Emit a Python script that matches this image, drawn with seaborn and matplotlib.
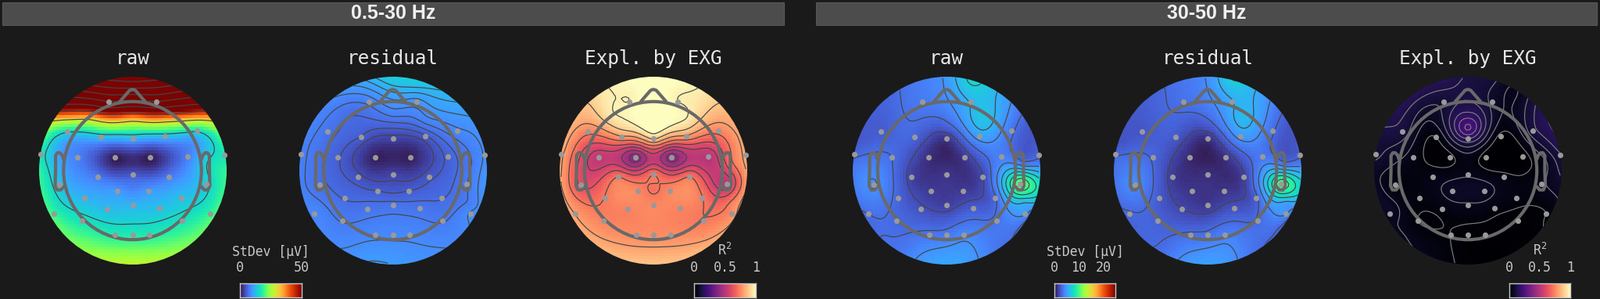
import numpy as np
import matplotlib
matplotlib.use('Agg')
import matplotlib.pyplot as plt
from matplotlib.patches import Rectangle, Circle, Ellipse
import seaborn as sns

W, H = 2047, 382

# electrode positions, head radius units where the map edge is 1
sensor_x = [-.257, .257, -.696, -.341, 0, .348, .688, -.982, -.587, -.188, .188, .587, .982,
            -.373, 0, .384, -.779, .786, -.163, .174, -.514, .518, -.272, 0, .286,
            -.837, .833, -.536, .533, -.185, 0, .181]
sensor_y = [.736, .736, .417, .361, .342, .367, .422, .172, .144, .142, .144, .15, .167,
            -.067, -.042, -.064, -.153, -.139, -.217, -.217, -.294, -.289, -.406, -.369, -.4,
            -.461, -.456, -.533, -.533, -.683, -.683, -.683]
# extra read-off points: frontal area, right temple, midline, then 24 rim points clockwise from the top
anchor_x = [-.45, 0, .36, 0, .83, .83, 0]
anchor_y = [.6, .6, .55, .45, .08, -.36, -.19]
rim_deg = [90 - 15 * i for i in range(24)]

raw_low = [75, 75, 15.5, 13, 12, 13, 15.5, 17, 8, .8, .8, 8, 17,
           7.5, 5, 7.5, 13, 14, 10, 10, 12, 13, 12.5, 12, 13,
           19, 19, 16.5, 16.5, 17.5, 17.5, 17.5]
raw_low_anchor = [39, 42, 35, 21, 16, 17, 8]
raw_low_rim = [130, 120, 95, 60, 27, 18, 19, 19.5, 21, 22, 24, 26, 27, 26, 24, 22, 21, 19.5, 19, 18, 27, 60, 95, 120]

res_low = [8, 9.5, 7, 5.2, 3.4, 5, 8.5, 8, 5.4, 1, 1, 5.6, 9,
           4.5, 3.5, 4.8, 6.8, 7.5, 5.2, 5.2, 6.3, 6.3, 7, 6.9, 7,
           8.5, 9, 7.5, 7.5, 8.5, 8.5, 8.5]
res_low_anchor = [6.5, 8, 8.5, 5.2, 7.5, 8, 4.6]
res_low_rim = [14, 14, 12.5, 11, 9.5, 9, 9.5, 9.5, 9, 8.5, 9, 9.5, 10, 10, 9, 8.5, 8.5, 8, 8, 8, 8.2, 8.5, 9.5, 11.5]

exp_low = [.97, .97, .74, .79, .9, .79, .74, .82, .52, .38, .38, .5, .82,
           .715, .715, .715, .62, .52, .75, .75, .72, .72, .74, .75, .74,
           .8, .76, .74, .72, .76, .76, .76]
exp_low_anchor = [.96, 1.05, .965, 1.02, .7, .74, .7]
exp_low_rim = [1.02, 1, .965, .88, .83, .82, .81, .8, .8, .82, .85, .87, .88, .87, .85, .83, .82, .81, .82, .83, .84, .88, .965, 1]

raw_high = [3.8, 6, 2.6, 2.9, 1.2, 5.2, 3.6, 3.1, 3.3, 1, 1.3, 4, 2.9,
            1.6, 1.2, 1.9, 4.7, 11, 1.4, 1.4, 2.9, 3.1, 2.2, 1.6, 2.6,
            3.3, 5, 3.1, 3.5, 3.6, 3.7, 4.3]
raw_high_anchor = [3.3, 3.8, 6.6, 2.6, 3.6, 5.5, 1.3]
raw_high_rim = [4.9, 7.5, 6.2, 4.4, 2.6, 2.6, 5.5, 7.5, 3.5, 3.3, 3.7, 5, 5.5, 5, 3.6, 3.3, 3.1, 3.7, 3.7, 2.6, 2.6, 2.8, 3.3, 3.9]

res_high = [3.4, 5.6, 2.4, 2.5, 1, 4.9, 3.3, 3, 3, .8, 1.1, 3.7, 2.8,
            1.4, 1, 1.6, 4.4, 10.5, 1.2, 1.2, 2.5, 2.8, 1.8, 1.3, 2.3,
            3, 4.7, 2.8, 3.2, 3.3, 3.4, 4]
res_high_anchor = [3, 3.4, 6.2, 2.2, 3.3, 5, 1.1]
res_high_rim = [4.6, 7, 5.8, 4, 2.4, 2.5, 5.2, 7, 3.2, 3, 3.4, 4.7, 5.2, 4.7, 3.3, 3, 2.9, 3.4, 3.4, 2.4, 2.4, 2.6, 3, 3.6]

exp_high = [.1, .08, .11, .02, .16, .01, .11, .1, .04, .01, .003, .005, .12,
            .04, .05, .03, .03, .05, .07, .07, .03, .03, .03, .05, .03,
            .07, .02, .02, .01, .02, .01, .01]
exp_high_anchor = [.07, .17, .05, .24, .05, .03, .07]
exp_high_rim = [.12, .1, .05, .12, .16, .14, .1, .06, .03, .01, .01, 0, .01, .03, .05, .06, .06, .07, .07, .1, .13, .15, .15, .15]

low_std_ticks = [0, 50]
high_std_ticks = [0, 10, 20]
r2_ticks = [0, .5, 1]

bg = '#1a1a1a'
sns.set_theme(style='dark', rc={'figure.facecolor': bg, 'axes.facecolor': bg, 'savefig.facecolor': bg,
                                'mathtext.default': 'regular', 'mathtext.fontset': 'dejavusans'})
plt.rcParams['font.family'] = ['DejaVu Sans Mono']


def px_axes(fig, left, top, right, bottom):
    return fig.add_axes([left / W, 1 - bottom / H, (right - left) / W, (bottom - top) / H])


def topo_field(values, n=64):
    # biharmonic spline through the values, same idea as the original map
    px = np.r_[sensor_x, anchor_x, np.cos(np.deg2rad(rim_deg))]
    py = np.r_[sensor_y, anchor_y, np.sin(np.deg2rad(rim_deg))]
    def kernel(dx, dy):
        r2 = dx ** 2 + dy ** 2 + 1e-12
        return r2 * (0.5 * np.log(r2) - 1)
    K = kernel(px[:, None] - px, py[:, None] - py)
    P = np.c_[np.ones_like(px), px, py]
    A = np.block([[K, P], [P.T, np.zeros((3, 3))]])
    w = np.linalg.solve(A, np.r_[values, 0, 0, 0])
    c = (np.arange(n) + .5) / n * 2 - 1
    gx, gy = np.meshgrid(c, c)
    K2 = kernel(gx[..., None] - px, gy[..., None] - py)
    return K2 @ w[:len(px)] + w[-3] + w[-2] * gx + w[-1] * gy


def draw_topo(fig, cx, title, values, anchors, rim, cmap, vmax, levels, line_color):
    ax = px_axes(fig, cx - 120, 98, cx + 120, 338)
    n = 64
    field = topo_field(np.r_[values, anchors, rim], n)
    sns.heatmap(field, cmap=cmap, vmin=0, vmax=vmax, cbar=False, xticklabels=False, yticklabels=False,
                square=False, ax=ax)
    ax.set_ylim(0, n)
    clip = Circle((n / 2, n / 2), n / 2, transform=ax.transData)
    ax.collections[0].set_clip_path(clip)
    grid = np.arange(n) + .5
    cs = ax.contour(grid, grid, field, levels=levels, colors=line_color, linewidths=.85)
    cs.set_clip_path(clip)

    def to_cell(v):
        return (np.asarray(v) + 1) / 2 * n

    head = Ellipse((n / 2, n / 2), .735 * n, .735 * n, fill=False, ec='#696969', lw=3, zorder=4)
    ax.add_patch(head)
    nose_x = [-.135, -.03, 0, .03, .135]
    nose_y = [.735, .855, .865, .855, .735]
    ear_x = [-.735, -.75, -.775, -.80, -.82, -.82, -.825, -.805, -.765, -.735]
    ear_y = [.12, .165, .19, .19, .16, 0, -.16, -.205, -.205, -.17]
    line = dict(color='#696969', lw=3, zorder=4, solid_joinstyle='round', solid_capstyle='round', clip_on=False)
    ax.plot(to_cell(nose_x), to_cell(nose_y), **line)
    ax.plot(to_cell(ear_x), to_cell(ear_y), **line)
    ax.plot(to_cell(-np.array(ear_x)), to_cell(ear_y), **line)
    sns.scatterplot(x=to_cell(sensor_x), y=to_cell(sensor_y), color='#999999', s=26, linewidth=0,
                    clip_on=False, zorder=5, legend=False, ax=ax)
    ax.set_xlim(0, n)
    ax.set_ylim(0, n)
    ax.set_axis_off()
    ax.text(.5, 1.067, title, transform=ax.transAxes, ha='center', va='baseline', fontsize=17.6, color='#e6e6e6')


def draw_cbar(fig, left, right, label, ticks, cmap, vmax, label_y=322):
    ax = px_axes(fig, left, 362, right, 379.5)
    gradient = np.linspace(0, 1, 256)[None, :]
    sns.heatmap(gradient, cmap=cmap, vmin=0, vmax=1, cbar=False, xticklabels=False, yticklabels=False, ax=ax)
    ax.set_xlim(0, 256)
    for s in ax.spines.values():
        s.set_visible(True)
        s.set_color('#c8c8c8')
        s.set_linewidth(1)
    ax.set_xticks([t / vmax * 256 for t in ticks])
    ax.set_xticklabels([f'{t:g}' for t in ticks], fontsize=12, color='#c8c8c8')
    ax.xaxis.tick_top()
    ax.tick_params(axis='x', length=0, pad=8, top=False)
    for t in ax.get_xticklabels():
        t.set_clip_on(False)
    fig.text((left + right) / 2 / W, 1 - label_y / H, label, ha='center', va='center', fontsize=11.9, color='#c8c8c8')


fig = plt.figure(figsize=(W / 100, H / 100), dpi=100)

for left, right, name in [(3, 1003, '0.5-30 Hz'), (1044, 2043, '30-50 Hz')]:
    fig.add_artist(Rectangle((left / W, 1 - 32 / H), (right - left) / W, 29 / H, transform=fig.transFigure,
                             fc='#4c4c4c', ec='#595959', lw=.8))
    fig.text((left + right) / 2 / W, 1 - 16.5 / H, name, ha='center', va='center', color='#f0f0f0', fontsize=18,
             fontweight='bold', family='Liberation Sans')

draw_topo(fig, 169.5, 'raw', raw_low, raw_low_anchor, raw_low_rim, 'turbo', 50,
          [15, 30, 45, 60, 75, 90, 105, 120], '#454545')
draw_topo(fig, 502.5, 'residual', res_low, res_low_anchor, res_low_rim, 'turbo', 50,
          [4, 5.2, 6.4, 7.6, 8.8, 10, 11.2, 12.4], '#454545')
draw_topo(fig, 836, 'Expl. by EXG', exp_low, exp_low_anchor, exp_low_rim, 'magma', 1,
          [.42, .49, .56, .63, .715, .80, .885, .97], '#454545')
draw_topo(fig, 1211, 'raw', raw_high, raw_high_anchor, raw_high_rim, 'turbo', 25,
          [2, 3.3, 4.6, 5.9, 7.2, 8.5, 9.8], '#454545')
draw_topo(fig, 1545, 'residual', res_high, res_high_anchor, res_high_rim, 'turbo', 25,
          [1.8, 3.1, 4.4, 5.7, 7, 8.3, 9.6], '#454545')
draw_topo(fig, 1878, 'Expl. by EXG', exp_high, exp_high_anchor, exp_high_rim, 'magma', 1,
          [.02, .055, .09, .125, .16, .195, .23], '#7d7d7d')

draw_cbar(fig, 307, 386, 'StDev [µV]', low_std_ticks, 'turbo', 50)
draw_cbar(fig, 888, 967, 'R$^2$', r2_ticks, 'magma', 1, label_y=320)
draw_cbar(fig, 1349, 1427, 'StDev [µV]', high_std_ticks, 'turbo', 25)
draw_cbar(fig, 1931, 2009, 'R$^2$', r2_ticks, 'magma', 1, label_y=320)

fig.savefig('out.png', dpi=100)
